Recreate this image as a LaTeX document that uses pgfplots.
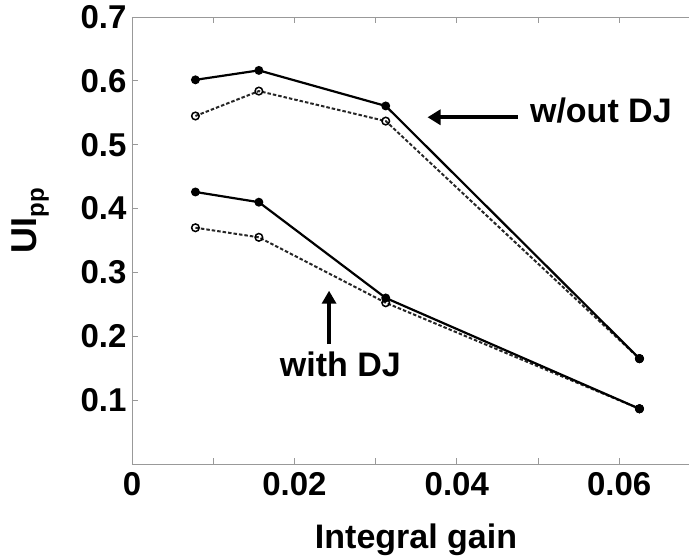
\documentclass[border=0pt]{standalone}
\usepackage{fontspec}
\setmainfont{Liberation Sans}
\usepackage{pgfplots}
\pgfplotsset{compat=1.18}
\usetikzlibrary{arrows.meta}
\definecolor{spine}{gray}{0.6}
\newcommand{\tickfont}{\fontsize{33}{40}\selectfont\bfseries}
\newcommand{\labfont}{\fontsize{34}{40}\selectfont\bfseries}
\begin{document}
\begin{tikzpicture}
\begin{axis}[
  at={(0,0)}, anchor=south west,
  scale only axis, width=557pt, height=447pt,
  xmin=0, xmax=0.0686, ymin=0, ymax=0.7,
  axis y line*=left,
  axis line style={spine, line width=0.9pt},
  tick style={spine, line width=0.9pt},
  tick align=inside, major tick length=6pt,
  scaled x ticks=false, scaled y ticks=false,
  xtick={0,0.01,0.02,0.03,0.04,0.05,0.06},
  xticklabels={0,,0.02,,0.04,,0.06},
  ytick={0.1,0.2,0.3,0.4,0.5,0.6,0.7},
  yticklabels={0.1,0.2,0.3,0.4,0.5,0.6,0.7},
  ticklabel style={font=\tickfont, text=black},
  xticklabel style={yshift=-5pt},
  yticklabel style={xshift=-2pt},
  xlabel={Integral gain},
  xlabel style={at={(axis description cs:0.51,-0.19)}, anchor=base, font=\labfont},
  ylabel={UI\raisebox{-0.22em}{\fontsize{24}{28}\selectfont pp}},
  ylabel style={at={(axis description cs:-0.183,0.544)}, anchor=center, font=\fontsize{36}{40}\selectfont\bfseries},
  clip=false,
]
% dotted series (open circles)
\addplot[black!85, line width=2pt, dash pattern=on 3.5pt off 2pt,
  mark=o, mark size=3.8pt, mark options={solid, line width=1.5pt, black}]
  coordinates {(0.0078125,0.545) (0.015625,0.584) (0.03125,0.537) (0.0625,0.165)};
\addplot[black!85, line width=2pt, dash pattern=on 3.5pt off 2pt,
  mark=o, mark size=3.8pt, mark options={solid, line width=1.5pt, black}]
  coordinates {(0.0078125,0.370) (0.015625,0.355) (0.03125,0.2525) (0.0625,0.0865)};
% solid series (filled dots)
\addplot[black, line width=2.2pt, mark=*, mark size=3.3pt]
  coordinates {(0.0078125,0.6016) (0.015625,0.6164) (0.03125,0.5607) (0.0625,0.165)};
\addplot[black, line width=2.2pt, mark=*, mark size=3.3pt]
  coordinates {(0.0078125,0.426) (0.015625,0.410) (0.03125,0.260) (0.0625,0.0865)};
\addplot[black, only marks, mark=*, mark size=4.3pt]
  coordinates {(0.0625,0.165) (0.0625,0.0865)};
% annotations
\draw[black, line width=4pt, -{Triangle[length=13pt,width=15pt]}]
  (axis cs:0.0475,0.543) -- (axis cs:0.0364,0.543);
\node[anchor=base west, inner sep=0pt, font=\labfont] at (axis cs:0.0490,0.5345) {w/out DJ};
\draw[black, line width=3.5pt, -{Triangle[length=13pt,width=14pt]}]
  (axis cs:0.02427,0.1876) -- (axis cs:0.02427,0.2714);
\node[anchor=base west, inner sep=0pt, font=\labfont] at (axis cs:0.0182,0.1377) {with DJ};
\end{axis}
\pgfresetboundingbox
\useasboundingbox (-132pt,-96pt) rectangle (557pt,464pt);
\end{tikzpicture}
\end{document}
